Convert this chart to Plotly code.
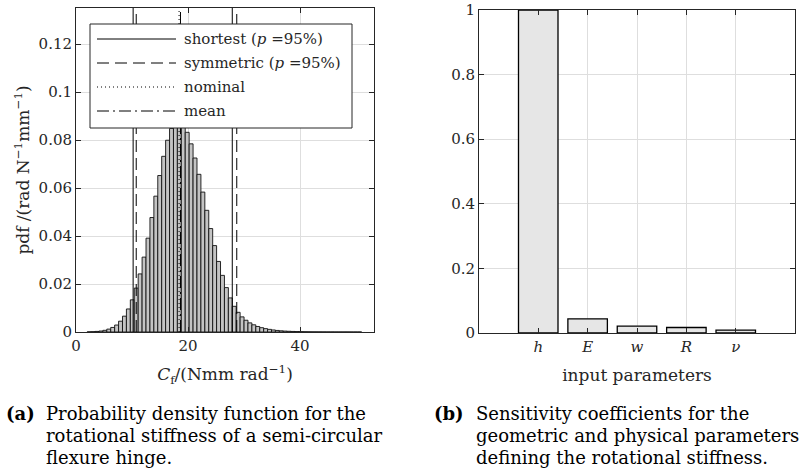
import plotly.graph_objects as go

# ---------------- data ----------------
# left: histogram of rotational stiffness (pdf)
bin_start = 2.0
bin_width = 0.7
pdf_values = [
    0.00007, 0.00013, 0.00024, 0.00041, 0.0007, 0.0012, 0.0019, 0.0029, 0.0045, 0.0066,
    0.0096, 0.0134, 0.0183, 0.0242, 0.0312, 0.0391, 0.0477, 0.0566, 0.0652, 0.0732,
    0.0799, 0.0848, 0.0875, 0.0879, 0.0864, 0.0832, 0.0784, 0.0725, 0.0657, 0.0583,
    0.0507, 0.0431, 0.0360, 0.0294, 0.0236, 0.0185, 0.0142, 0.0107, 0.0082, 0.0063,
    0.0049, 0.0038, 0.0030, 0.0023, 0.0018, 0.0014, 0.0011, 0.00085, 0.00065, 0.0005,
    0.00038, 0.0003, 0.00023, 0.00018, 0.00014, 0.00011, 0.00008, 0.00006, 0.00005, 0.00004,
    0.00003, 0.00002, 0.00002, 0.00001, 0.00001, 0.00001, 0.00001, 0.0, 0.0, 0.0,
]
shortest_interval = [10.2, 27.9]
symmetric_interval = [10.75, 28.7]
nominal_value = 18.4
mean_value = 18.65

left_xticks = [0, 20, 40]
left_yticks = [0, 0.02, 0.04, 0.06, 0.08, 0.1, 0.12]
left_yticktext = ["0", "0.02", "0.04", "0.06", "0.08", "0.1", "0.12"]
left_xrange = [0, 53.2]
left_yrange = [0, 0.135]

# right: sensitivity coefficients
param_pos = [1, 2, 3, 4, 5]
param_labels = ["<i>h</i>", "<i>E</i>", "<i>w</i>", "<i>R</i>", "<i>ν</i>"]
sensitivity = [1.0, 0.044, 0.021, 0.017, 0.009]
right_yticks = [0, 0.2, 0.4, 0.6, 0.8, 1.0]
right_yticktext = ["0", "0.2", "0.4", "0.6", "0.8", "1"]

caption_a = ["Probability density function for the",
             "rotational stiffness of a semi-circular",
             "flexure hinge."]
caption_b = ["Sensitivity coefficients for the",
             "geometric and physical parameters",
             "defining the rotational stiffness."]

# ---------------- layout helpers ----------------
W, H = 805, 468
def X(px):
    return px / W
def Y(py):
    return 1 - py / H

FONT = "DejaVu Serif"
AX = "#262626"
GRID = "#dedede"

bin_centers = [bin_start + bin_width * (i + 0.5) for i in range(len(pdf_values))]

fig = go.Figure()

fig.add_trace(go.Bar(
    x=bin_centers, y=pdf_values, width=bin_width,
    marker=dict(color="#c4c4c4", line=dict(color="#111111", width=0.9)),
    xaxis="x", yaxis="y", showlegend=False,
))

def vline(v, dash):
    fig.add_trace(go.Scatter(
        x=[v, v], y=[left_yrange[0], left_yrange[1]], mode="lines",
        line=dict(color="black", width=1, dash=dash),
        xaxis="x", yaxis="y", showlegend=False, hoverinfo="skip",
    ))

DASH = "12px,6px"
DOT = "1px,3px"
DASHDOT = "12px,4px,2px,4px"
for v in shortest_interval:
    vline(v, "solid")
for v in symmetric_interval:
    vline(v, DASH)
vline(nominal_value, DOT)
vline(mean_value, DASHDOT)

fig.add_trace(go.Bar(
    x=param_pos, y=sensitivity, width=0.8,
    marker=dict(color="#e6e6e6", line=dict(color="black", width=1.3)),
    xaxis="x2", yaxis="y2", showlegend=False,
))

axis_common = dict(
    showline=True, linecolor=AX, linewidth=1, mirror="ticks",
    ticks="inside", ticklen=5, tickcolor=AX, tickwidth=1,
    showgrid=True, gridcolor=GRID, gridwidth=1, zeroline=False,
    tickfont=dict(family=FONT, size=15, color=AX),
    automargin=False,
)

fig.update_layout(
    width=W, height=H,
    margin=dict(l=0, r=0, t=0, b=0, autoexpand=False),
    paper_bgcolor="white", plot_bgcolor="white",
    showlegend=False,
    xaxis=dict(
        domain=[X(76), X(374)], range=left_xrange,
        tickvals=left_xticks, anchor="y",
        title=dict(text="<i>C</i><sub>f</sub>/(Nmm rad<sup>−1</sup>)",
                   font=dict(family=FONT, size=17, color=AX), standoff=14),
        **axis_common,
    ),
    yaxis=dict(
        domain=[Y(332), Y(8)], range=left_yrange,
        tickvals=left_yticks, ticktext=left_yticktext, anchor="x",
        title=dict(text="pdf /(rad N<sup>−1</sup>mm<sup>−1</sup>)",
                   font=dict(family=FONT, size=17, color=AX), standoff=4),
        **axis_common,
    ),
    xaxis2=dict(
        domain=[X(479), X(795)], range=[-0.2, 6.2],
        tickvals=param_pos, ticktext=param_labels, anchor="y2",
        title=dict(text="input parameters",
                   font=dict(family=FONT, size=17, color=AX), standoff=14),
        **axis_common,
    ),
    yaxis2=dict(
        domain=[Y(333), Y(10)], range=[0, 1],
        tickvals=right_yticks, ticktext=right_yticktext, anchor="x2",
        **axis_common,
    ),
)

# ---------------- custom legend (left panel) ----------------
shapes = []
lx0, lx1, ly0, ly1 = 90, 352, 24, 128
shapes.append(dict(type="rect", xref="paper", yref="paper",
                   x0=X(lx0), x1=X(lx1), y0=Y(ly1), y1=Y(ly0),
                   fillcolor="white", line=dict(color=AX, width=1), layer="above"))
legend_items = [
    ("shortest (<i>p</i> =95%)", "solid"),
    ("symmetric (<i>p</i> =95%)", DASH),
    ("nominal", DOT),
    ("mean", DASHDOT),
]
rows = [39, 63, 87, 111]
annotations = []
for (label, dash), ry in zip(legend_items, rows):
    shapes.append(dict(type="line", xref="paper", yref="paper",
                       x0=X(97), x1=X(176), y0=Y(ry), y1=Y(ry),
                       line=dict(color="black", width=1, dash=dash), layer="above"))
    annotations.append(dict(xref="paper", yref="paper", x=X(182), y=Y(ry),
                            xanchor="left", yanchor="middle", showarrow=False,
                            text=label, font=dict(family=FONT, size=15, color=AX)))

# ---------------- captions ----------------
cap_font = dict(family=FONT, size=18, color="black")
cap_rows = [413, 435, 457]
for tag, tag_x, text_x, lines in (("(a)", 4, 44, caption_a), ("(b)", 432, 474, caption_b)):
    annotations.append(dict(xref="paper", yref="paper", x=X(tag_x), y=Y(cap_rows[0]),
                            xanchor="left", yanchor="middle", showarrow=False,
                            text="<b>%s</b>" % tag, font=cap_font))
    for line, ry in zip(lines, cap_rows):
        annotations.append(dict(xref="paper", yref="paper", x=X(text_x), y=Y(ry),
                                xanchor="left", yanchor="middle", showarrow=False,
                                text=line, font=cap_font))

fig.update_layout(shapes=shapes, annotations=annotations)

fig.write_html(
    "out.html",
    config={"displayModeBar": False},
    post_script="document.body.style.margin='0';document.body.style.padding='0';document.body.style.overflow='hidden';",
)
